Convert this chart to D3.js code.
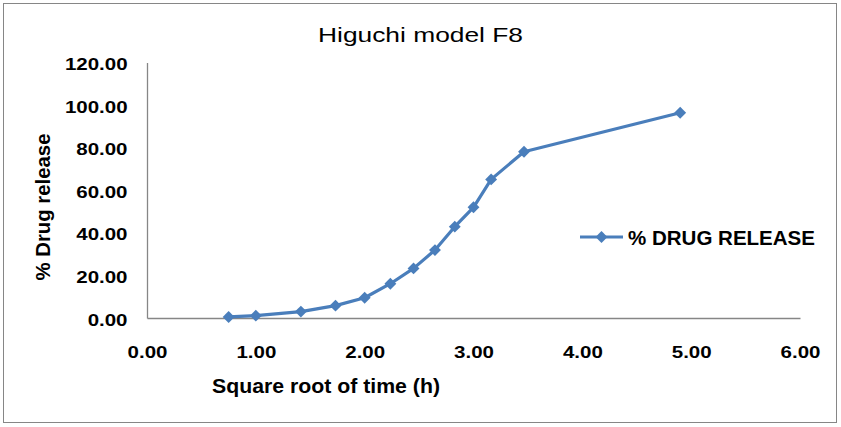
<!DOCTYPE html>
<html><head><meta charset="utf-8">
<script src="https://cdn.jsdelivr.net/npm/d3@7"></script>
<style>body{margin:0;background:#fff}svg{display:block}text{font-family:Arial,"Liberation Sans",sans-serif}</style>
</head><body>
<svg id="c" width="841" height="427"></svg>
<script>
const sqrtTime = [0.75, 1.0, 1.414, 1.732, 2.0, 2.236, 2.449, 2.646, 2.828, 3.0, 3.162, 3.464, 4.899];
const drugRelease = [0.5, 1.1, 3.0, 5.8, 9.5, 16.1, 23.3, 31.9, 42.9, 52.0, 65.1, 78.1, 96.4];
const xTicks = [0, 1, 2, 3, 4, 5, 6];
const yTicks = [0, 20, 40, 60, 80, 100, 120];
const seriesName = "% DRUG RELEASE";
const title = "Higuchi model F8";
const xTitle = "Square root of time (h)";
const yTitle = "% Drug release";

const svg = d3.select("#c");
const color = "#4a7ebb";
svg.append("rect").attr("x",3.5).attr("y",3.5).attr("width",833).attr("height",419)
  .attr("fill","#fff").attr("stroke","#868686").attr("stroke-width",1);

const x = d3.scaleLinear().domain([0,6]).range([147,800]);
const y = d3.scaleLinear().domain([0,120]).range([318,62.5]);

svg.append("text").attr("x",420.5).attr("y",41.5).attr("text-anchor","middle")
  .attr("font-size",21).attr("fill","#000").attr("textLength",205)
  .attr("lengthAdjust","spacingAndGlyphs").text(title);

const fmt = d3.format(".2f");
const xa = svg.append("g").attr("transform","translate(0,318)")
  .call(d3.axisBottom(x).tickValues(xTicks).tickSize(0).tickFormat(fmt));
const ya = svg.append("g").attr("transform","translate(147,0)")
  .call(d3.axisLeft(y).tickValues(yTicks).tickSize(0).tickFormat(fmt));
[xa,ya].forEach(a=>{
  a.select(".domain").attr("stroke","#868686").attr("stroke-width",1.3);
  a.selectAll("text").attr("font-size",16).attr("font-weight","bold").attr("fill","#000")
    .attr("font-family","Arial, 'Liberation Sans', sans-serif");
});
xa.selectAll("text").attr("y",40).attr("dy",0);
ya.selectAll("text").attr("x",-19.5).attr("dy",0).attr("y",7);
[xa,ya].forEach(a=>a.selectAll("text").each(function(){
  const t=d3.select(this);
  t.attr("textLength", this.getComputedTextLength()*1.28).attr("lengthAdjust","spacingAndGlyphs");
}));

svg.append("text").attr("x",326).attr("y",393).attr("text-anchor","middle")
  .attr("font-size",19.5).attr("font-weight","bold").attr("textLength",228)
  .attr("lengthAdjust","spacingAndGlyphs").text(xTitle);
svg.append("text").attr("transform","translate(49.5,207) rotate(-90)").attr("text-anchor","middle")
  .attr("font-size",20).attr("font-weight","bold").attr("textLength",147)
  .attr("lengthAdjust","spacingAndGlyphs").text(yTitle);

const data = sqrtTime.map((v,i)=>({x:v,y:drugRelease[i]}));
svg.append("path").datum(data).attr("fill","none").attr("stroke",color).attr("stroke-width",3.2)
  .attr("stroke-linejoin","round")
  .attr("d",d3.line().x(d=>x(d.x)).y(d=>y(d.y)));
const diamond = d3.symbol().type(d3.symbolDiamond2).size(90);
svg.selectAll(".m").data(data).join("path").attr("class","m")
  .attr("transform",d=>`translate(${x(d.x)},${y(d.y)})`).attr("d",diamond).attr("fill",color);

const lg = svg.append("g");
lg.append("line").attr("x1",580).attr("x2",623).attr("y1",237).attr("y2",237).attr("stroke",color).attr("stroke-width",3.2);
lg.append("path").attr("transform","translate(601.5,237)").attr("d",diamond).attr("fill",color);
lg.append("text").attr("x",628).attr("y",245).attr("font-size",20).attr("font-weight","bold")
  .attr("textLength",187).attr("lengthAdjust","spacingAndGlyphs").text(seriesName);
</script>
</body></html>
